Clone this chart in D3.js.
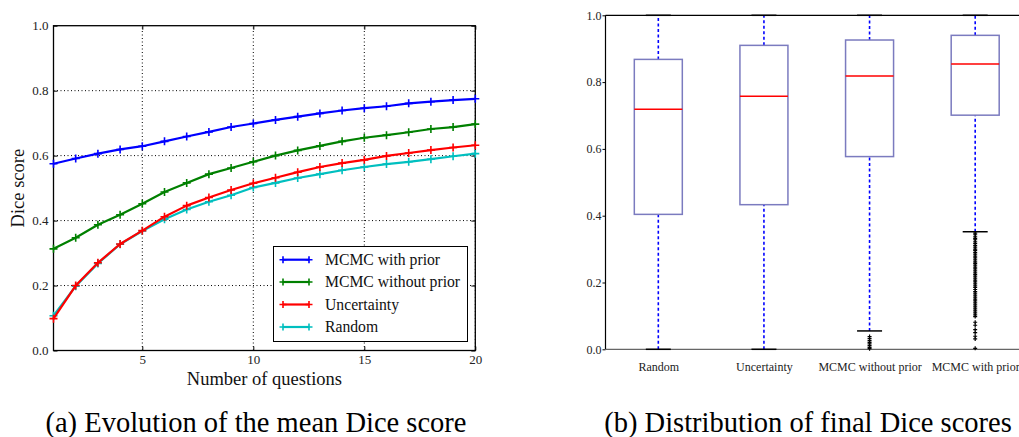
<!DOCTYPE html>
<html>
<head>
<meta charset="utf-8">
<script src="https://cdn.jsdelivr.net/npm/d3@7/dist/d3.min.js"></script>
<style>
  html, body { margin: 0; padding: 0; background: #fff; }
  svg, svg text { font-family: "Liberation Serif", "Times New Roman", serif; }
</style>
</head>
<body>
<svg id="chart" width="1019" height="437"></svg>
<script>
// ---- Mean Dice score vs number of questions ----
const questions = [1,2,3,4,5,6,7,8,9,10,11,12,13,14,15,16,17,18,19,20];
const mcmcWithPrior    = [0.575,0.591,0.606,0.619,0.629,0.644,0.659,0.673,0.688,0.699,0.710,0.720,0.730,0.739,0.746,0.752,0.761,0.766,0.771,0.775];
const mcmcWithoutPrior = [0.313,0.347,0.387,0.418,0.452,0.488,0.516,0.543,0.562,0.581,0.600,0.616,0.630,0.644,0.655,0.663,0.672,0.682,0.688,0.697];
const uncertainty      = [0.098,0.200,0.270,0.328,0.369,0.412,0.446,0.471,0.494,0.515,0.532,0.549,0.565,0.577,0.587,0.599,0.608,0.617,0.625,0.632];
const random           = [0.107,0.198,0.268,0.327,0.368,0.404,0.434,0.458,0.478,0.502,0.516,0.531,0.543,0.555,0.565,0.574,0.581,0.589,0.598,0.606];
const seriesNames  = ["MCMC with prior", "MCMC without prior", "Uncertainty", "Random"];
const seriesColors = ["#0000ff", "#008000", "#ff0000", "#00bfbf"];
const yTicks = [0.0, 0.2, 0.4, 0.6, 0.8, 1.0];
const xTicks = [5, 10, 15, 20];

// ---- Distribution of final Dice scores ----
const methods  = ["Random", "Uncertainty", "MCMC without prior", "MCMC with prior"];
const q1       = [0.404, 0.433, 0.577, 0.701];
const medians  = [0.719, 0.758, 0.818, 0.854];
const q3       = [0.868, 0.910, 0.926, 0.940];
const whiskLo  = [0.000, 0.000, 0.055, 0.352];
const whiskHi  = [1.000, 1.000, 1.000, 1.000];
const fliersWithoutPrior = [0.038, 0.032, 0.026, 0.021, 0.016, 0.011, 0.006, 0.002];
const fliersWithPrior = [0.348,0.343,0.337,0.332,0.328,0.322,0.317,0.311,0.306,0.300,0.296,0.290,0.285,0.279,
  0.274,0.268,0.262,0.257,0.252,0.246,0.241,0.235,0.229,0.224,0.219,0.213,0.207,0.202,0.196,0.190,0.185,
  0.179,0.173,0.168,0.162,0.156,0.150,0.145,0.139,0.133,0.127,0.121,0.115,0.109,0.103,0.098,
  0.081,0.072,0.059,0.050,0.039,0.031,0.003];
const fliers = [[], [], fliersWithoutPrior, fliersWithPrior];

const FONT = '"Liberation Serif", "Times New Roman", serif';
const svg = d3.select("#chart");
const fmt = d3.format(".1f");

// ================= Left panel: line chart =================
const xL = d3.scaleLinear().domain([1, 20]).range([53.5, 475.3]);
const yL = d3.scaleLinear().domain([0, 1]).range([350.5, 25.7]);
const left = svg.append("g");

// dotted grid
left.append("g").selectAll("line").data(xTicks).join("line")
  .attr("x1", d => xL(d)).attr("x2", d => xL(d))
  .attr("y1", yL(0)).attr("y2", yL(1))
  .attr("stroke", "#000").attr("stroke-width", 1).attr("stroke-dasharray", "1,2.5");
left.append("g").selectAll("line").data(yTicks.slice(1, -1)).join("line")
  .attr("x1", xL(1)).attr("x2", xL(20))
  .attr("y1", d => yL(d)).attr("y2", d => yL(d))
  .attr("stroke", "#000").attr("stroke-width", 1).attr("stroke-dasharray", "1,2.5");

// axes with inward ticks
function styleAxis(g, size) {
  g.attr("font-family", null).attr("font-size", null);
  g.select(".domain").remove();
  g.selectAll(".tick line").attr("stroke", "#000").attr("stroke-width", 1);
  g.selectAll(".tick text").style("font-size", size + "px").attr("fill", "#222")
    .style("font-family", FONT);
}
left.append("g").attr("transform", `translate(${xL(1)},0)`)
  .call(d3.axisLeft(yL).tickValues(yTicks).tickFormat(fmt).tickSizeInner(-4).tickSizeOuter(0).tickPadding(5))
  .call(g => styleAxis(g, 13));
left.append("g").attr("transform", `translate(${xL(20)},0)`)
  .call(d3.axisRight(yL).tickValues(yTicks).tickFormat("").tickSizeInner(-4).tickSizeOuter(0))
  .call(g => styleAxis(g, 13));
left.append("g").attr("transform", `translate(0,${yL(0)})`)
  .call(d3.axisBottom(xL).tickValues(xTicks).tickFormat(d3.format("d")).tickSizeInner(-4).tickSizeOuter(0).tickPadding(4))
  .call(g => styleAxis(g, 13));
left.append("g").attr("transform", `translate(0,${yL(1)})`)
  .call(d3.axisTop(xL).tickValues(xTicks).tickFormat("").tickSizeInner(-4).tickSizeOuter(0))
  .call(g => styleAxis(g, 13));

// frame
left.append("rect")
  .attr("x", xL(1)).attr("y", yL(1))
  .attr("width", xL(20) - xL(1)).attr("height", yL(0) - yL(1))
  .attr("fill", "none").attr("stroke", "#000").attr("stroke-width", 1.3);

// series
const allSeries = [mcmcWithPrior, mcmcWithoutPrior, uncertainty, random];
const line = d3.line().x((d, i) => xL(questions[i])).y(d => yL(d));
function plusPath(cx, cy, r) {
  return `M${cx - r},${cy}H${cx + r}M${cx},${cy - r}V${cy + r}`;
}
// draw in reverse so blue ends on top
[3, 2, 1, 0].forEach(k => {
  const vals = allSeries[k];
  const g = left.append("g");
  g.append("path").datum(vals).attr("d", line)
    .attr("fill", "none").attr("stroke", seriesColors[k]).attr("stroke-width", 2.2)
    .attr("stroke-linejoin", "round");
  g.selectAll("path.mk").data(vals).join("path").attr("class", "mk")
    .attr("d", (d, i) => plusPath(xL(questions[i]), yL(d), 4))
    .attr("stroke", seriesColors[k]).attr("stroke-width", 1.6);
});

// legend
const leg = left.append("g");
leg.append("rect").attr("x", 273.5).attr("y", 246.5).attr("width", 194).attr("height", 95)
  .attr("fill", "#fff").attr("stroke", "#000").attr("stroke-width", 1);
const legY = [259.7, 282, 304.5, 327];
seriesNames.forEach((name, k) => {
  const y = legY[k];
  leg.append("line").attr("x1", 283).attr("x2", 309).attr("y1", y).attr("y2", y)
    .attr("stroke", seriesColors[k]).attr("stroke-width", 2.2);
  [283, 309].forEach(x => leg.append("path").attr("d", plusPath(x, y, 3.5))
    .attr("stroke", seriesColors[k]).attr("stroke-width", 1.6));
  leg.append("text").attr("x", 325).attr("y", y).attr("dy", "0.35em")
    .style("font-family", FONT).style("font-size", "15.7px").attr("fill", "#111").text(name);
});

// axis titles
left.append("text").attr("transform", `translate(24,${(yL(0) + yL(1)) / 2}) rotate(-90)`)
  .attr("text-anchor", "middle").style("font-family", FONT).style("font-size", "18.5px")
  .attr("fill", "#111").text("Dice score");
left.append("text").attr("x", (xL(1) + xL(20)) / 2).attr("y", 385)
  .attr("text-anchor", "middle").style("font-family", FONT).style("font-size", "18.5px")
  .attr("fill", "#111").text("Number of questions");

// caption
svg.append("text").attr("x", 256).attr("y", 432).attr("text-anchor", "middle")
  .style("font-family", FONT).style("font-size", "28.5px").attr("fill", "#000")
  .text("(a) Evolution of the mean Dice score");

// ================= Right panel: box plots =================
const xR = d3.scaleLinear().domain([0.5, 4.5]).range([605.5, 1028]);
const yR = d3.scaleLinear().domain([0, 1]).range([349.3, 15.3]);
const right = svg.append("g");
const boxW = 48, capW = 25;

right.append("g").attr("transform", `translate(${xR(0.5)},0)`)
  .call(d3.axisLeft(yR).tickValues(yTicks).tickFormat(fmt).tickSizeInner(3).tickSizeOuter(0).tickPadding(1))
  .call(g => styleAxis(g, 12));
right.append("g").attr("transform", `translate(0,${yR(0) + 13})`)
  .call(d3.axisBottom(xR).tickValues([1, 2, 3, 4]).tickFormat((d, i) => methods[i]).tickSize(0).tickPadding(0))
  .call(g => styleAxis(g, 12));

// spines
right.append("line").attr("x1", xR(0.5)).attr("x2", 1019).attr("y1", yR(1)).attr("y2", yR(1))
  .attr("stroke", "#000").attr("stroke-width", 1.2);
right.append("line").attr("x1", xR(0.5)).attr("x2", 1019).attr("y1", yR(0)).attr("y2", yR(0))
  .attr("stroke", "#666").attr("stroke-width", 1.2);
right.append("line").attr("x1", xR(0.5)).attr("x2", xR(0.5)).attr("y1", yR(0)).attr("y2", yR(1))
  .attr("stroke", "#000").attr("stroke-width", 1.2);

methods.forEach((m, i) => {
  const cx = xR(i + 1);
  const g = right.append("g");
  // whiskers
  [[whiskLo[i], q1[i]], [q3[i], whiskHi[i]]].forEach(([a, b]) =>
    g.append("line").attr("x1", cx).attr("x2", cx).attr("y1", yR(a)).attr("y2", yR(b))
      .attr("stroke", "#0000ff").attr("stroke-width", 1.6).attr("stroke-dasharray", "3,2.5"));
  // caps
  [whiskLo[i], whiskHi[i]].forEach(v =>
    g.append("line").attr("x1", cx - capW / 2).attr("x2", cx + capW / 2).attr("y1", yR(v)).attr("y2", yR(v))
      .attr("stroke", "#000").attr("stroke-width", 1.5));
  // box
  g.append("rect").attr("x", cx - boxW / 2).attr("y", yR(q3[i]))
    .attr("width", boxW).attr("height", yR(q1[i]) - yR(q3[i]))
    .attr("fill", "none").attr("stroke", "#7b7bbf").attr("stroke-width", 1.5);
  // median
  g.append("line").attr("x1", cx - boxW / 2).attr("x2", cx + boxW / 2)
    .attr("y1", yR(medians[i])).attr("y2", yR(medians[i]))
    .attr("stroke", "#ff0000").attr("stroke-width", 1.5);
  // outliers
  g.selectAll("path.fl").data(fliers[i]).join("path").attr("class", "fl")
    .attr("d", d => plusPath(cx, yR(d), 2))
    .attr("stroke", "#000").attr("stroke-width", 1.2);
});

svg.append("text").attr("x", 808).attr("y", 432).attr("text-anchor", "middle")
  .style("font-family", FONT).style("font-size", "28.5px").attr("fill", "#000")
  .text("(b) Distribution of final Dice scores");
</script>
</body>
</html>
